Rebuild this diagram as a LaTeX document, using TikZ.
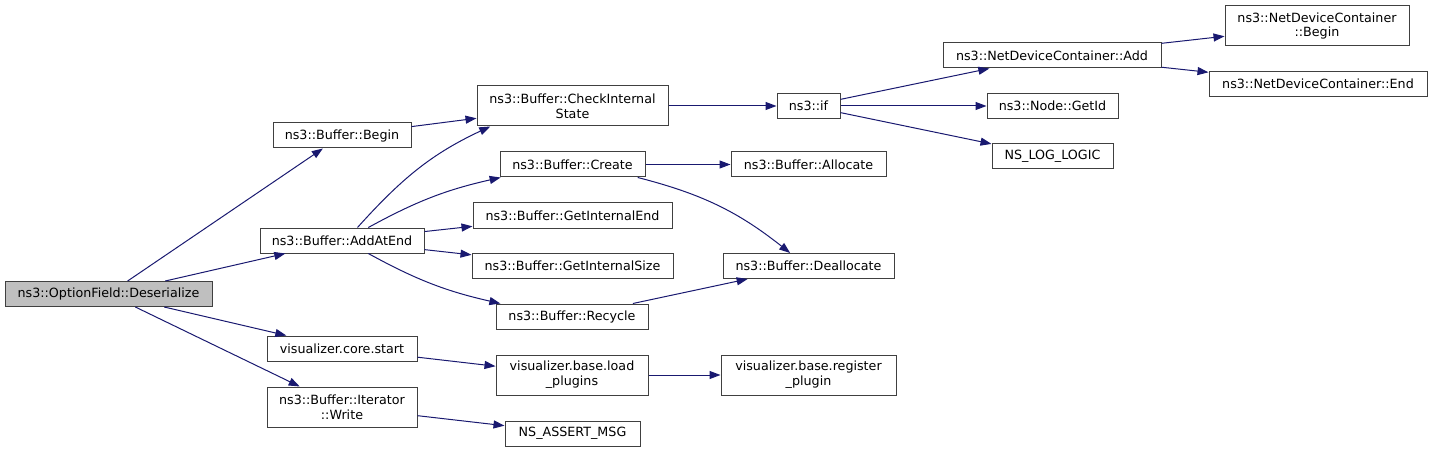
\documentclass[tikz,border=0pt]{standalone}
\usepackage{fontspec}
\setmainfont{DejaVu Sans}
\usetikzlibrary{arrows.meta}
\definecolor{EdgeBlue}{HTML}{191970}
\definecolor{BoxGray}{HTML}{404040}
\definecolor{RootFill}{HTML}{BFBFBF}

\begin{document}
\begin{tikzpicture}[x=1pt,y=1pt,
    fn/.style={draw=BoxGray,line width=1pt,fill=white,inner sep=0pt,align=center,
      minimum height=25pt,font=\fontsize{12.7}{14.7}\selectfont},
    fn2/.style={fn,minimum height=40pt},
    edge/.style={EdgeBlue,line width=1pt,-{Triangle[length=11pt,width=8pt]}}]
  \useasboundingbox (0,0) rectangle (1431,453);
  % column 0 and 1
  \node[fn,fill=RootFill,minimum width=207pt] (des) at (108.5,159) {ns3::OptionField::Deserialize};
  \node[fn,minimum width=138pt] (bbegin) at (342,317.5) {ns3::Buffer::Begin};
  \node[fn,minimum width=164pt] (add) at (342,212.5) {ns3::Buffer::AddAtEnd};
  \node[fn,minimum width=150pt] (start) at (342,104.5) {visualizer.core.start};
  \node[fn2,minimum width=150pt] (write) at (342,46) {ns3::Buffer::Iterator\\::Write};
  % column 2
  \node[fn2,minimum width=191pt] (cis) at (572.5,347) {ns3::Buffer::CheckInternal\\State};
  \node[fn,minimum width=145pt] (create) at (572.5,288.5) {ns3::Buffer::Create};
  \node[fn,minimum width=199pt] (gie) at (572.5,237.5) {ns3::Buffer::GetInternalEnd};
  \node[fn,minimum width=201pt] (gis) at (572.5,187) {ns3::Buffer::GetInternalSize};
  \node[fn,minimum width=152pt] (recycle) at (572,136.5) {ns3::Buffer::Recycle};
  \node[fn2,minimum width=152pt] (load) at (572,78) {visualizer.base.load\\\_plugins};
  \node[fn,minimum width=135pt] (assert) at (572.5,19.5) {NS\_ASSERT\_MSG};
  % column 3
  \node[fn,minimum width=63pt] (if) at (808.5,347) {ns3::if};
  \node[fn,minimum width=155pt] (alloc) at (808.5,288.5) {ns3::Buffer::Allocate};
  \node[fn,minimum width=171pt] (dealloc) at (808.5,187) {ns3::Buffer::Deallocate};
  \node[fn2,minimum width=175pt] (register) at (808.5,78) {visualizer.base.register\\\_plugin};
  % column 4 and 5
  \node[fn,minimum width=218pt] (ndcadd) at (1052,397.5) {ns3::NetDeviceContainer::Add};
  \node[fn,minimum width=131pt] (getid) at (1052.5,347) {ns3::Node::GetId};
  \node[fn,minimum width=121pt] (nslog) at (1052.5,296.5) {NS\_LOG\_LOGIC};
  \node[fn2,minimum width=184pt] (ndcbegin) at (1317,427) {ns3::NetDeviceContainer\\::Begin};
  \node[fn,minimum width=218pt] (ndcend) at (1318,369) {ns3::NetDeviceContainer::End};

  \draw[edge] (des) -- (bbegin);
  \draw[edge] (des) -- (add);
  \draw[edge] (des) -- (start);
  \draw[edge] (des) -- (write);
  \draw[edge] (bbegin) -- (cis);
  \draw[edge] (add.40) to[out=48,in=205] (cis.194);
  \draw[edge] (add) to[bend left=8] (create);
  \draw[edge] (add) -- (gie);
  \draw[edge] (add) -- (gis);
  \draw[edge] (add) to[bend right=8] (recycle);
  \draw[edge] (start) -- (load);
  \draw[edge] (write) -- (assert);
  \draw[edge] (cis) -- (if);
  \draw[edge] (create) -- (alloc);
  \draw[edge] (create) to[bend left=12] (dealloc);
  \draw[edge] (recycle) -- (dealloc);
  \draw[edge] (load) -- (register);
  \draw[edge] (if) -- (ndcadd);
  \draw[edge] (if) -- (getid);
  \draw[edge] (if) -- (nslog);
  \draw[edge] (ndcadd) -- (ndcbegin);
  \draw[edge] (ndcadd) -- (ndcend);
\end{tikzpicture}
\end{document}
